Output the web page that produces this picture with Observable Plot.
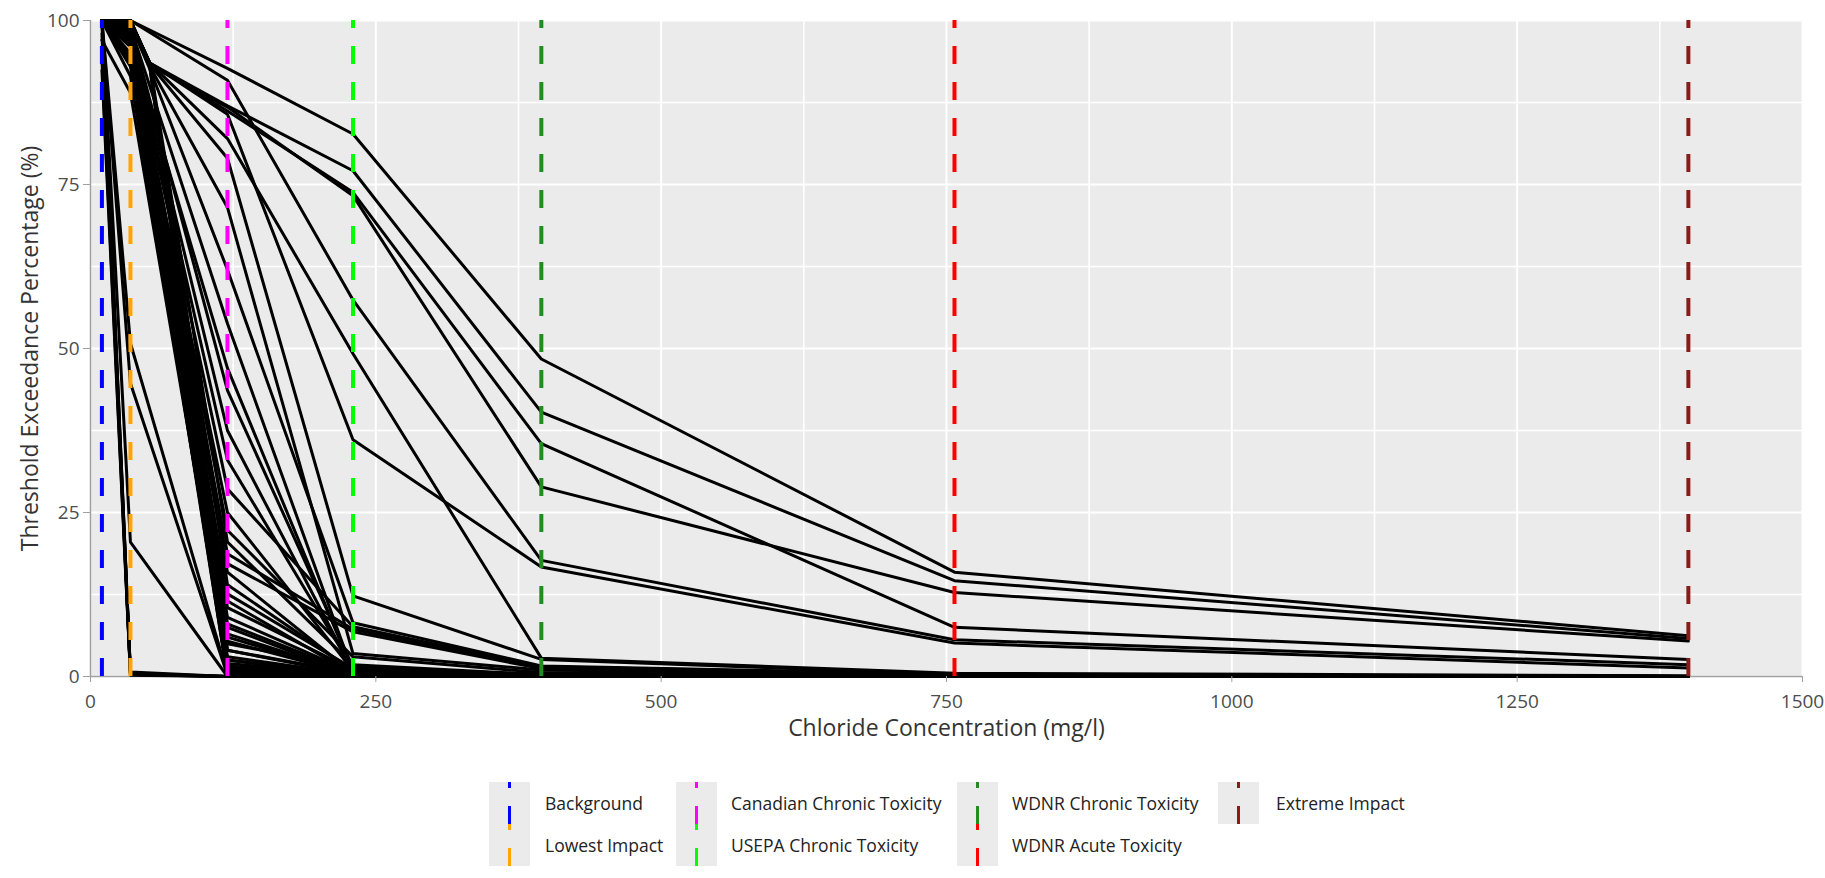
<!DOCTYPE html>
<html>
<head>
<meta charset="utf-8">
<script src="https://cdn.jsdelivr.net/npm/d3@7"></script>
<script src="https://cdn.jsdelivr.net/npm/@observablehq/plot@0.6"></script>
<style>
  html, body { margin: 0; padding: 0; background: #ffffff; }
  #wrap { position: relative; width: 1825px; height: 878px; font-family: "Open Sans", "Noto Sans", sans-serif; }
  #wrap svg { display: block; }
  .key { position: absolute; width: 41px; height: 42px; background: #EBEBEB; }
  .lab { position: absolute; font-size: 17.5px; color: #222; line-height: 20px; white-space: nowrap; }
</style>
</head>
<body>
<div id="wrap"></div>
<script>
// ---- Data ----
const thresholdNames = ["Background", "Lowest Impact", "Canadian Chronic Toxicity", "USEPA Chronic Toxicity", "WDNR Chronic Toxicity", "WDNR Acute Toxicity", "Extreme Impact"];
const thresholdValues = [10, 35, 120, 230, 395, 757, 1400];
const thresholdColors = ["#0000FF", "#FFA500", "#FF00FF", "#00FF00", "#228B22", "#FF0000", "#8B1A1A"];

// concentrations at which each site's exceedance percentage is plotted
const siteX = [10, 35, 52, 120, 230, 395, 757, 1400];
// exceedance percentage per site (null = no point)
const siteY = [
  [100, 100, null, 92.7, 82.7, 48.4, 15.9, 6.2],
  [100, 100, 93.5, 87.0, 77.1, 40.3, 14.6, 5.8],
  [100, 100, 93.5, 86.2, 73.8, 35.5, 7.5, 2.6],
  [100, 100, 93.2, 86.8, 73.3, 28.9, 12.8, 5.4],
  [100, 100, null, 90.9, 57.4, 17.7, 5.6, 1.8],
  [100, 100, 93.5, 85.7, 36.1, 16.7, 5.1, 1.3],
  [100, 100, 93.5, 82.0, 49.2, 2.8, 0.5, 0.1],
  [100, 100, 93.3, 79.0, 12.3, 2.6, 0.3, 0],
  [100, 100, 93.0, 71.5, 3.5, 1.0, 0.2, 0],
  [100, 99.5, 92.6, 62.0, 8.2, 1.6, 0.3, 0],
  [100, 100, 93.4, 20.5, 1.8, 0.3, 0, 0],
  [100, 100, 93.2, 14.0, 0.9, 0.1, 0, 0],
  [100, 100, 93.0, 8.0, 0.5, 0, 0, 0],
  [100, 99.5, 92.8, 4.0, 0.3, 0, 0, 0],
  [100, 100, 93.5, 2.5, 0.2, 0, 0, 0],
  [100, 99, null, 53.8, 0.6, 0.2, 0, 0],
  [100, 99, null, 43.6, 1.4, 0.3, 0, 0],
  [100, 98.5, null, 37.5, 0.8, 0.2, 0, 0],
  [100, 98, null, 28.6, 7.6, 1.5, 0.3, 0],
  [100, 97.5, null, 22.3, 3.0, 0.6, 0, 0],
  [100, 99, null, 18.7, 7.2, 1.4, 0.3, 0],
  [100, 98, null, 17.2, 6.8, 1.2, 0.2, 0],
  [100, 97, null, 15.9, 0.5, 0.1, 0, 0],
  [100, 99, null, 12.6, 1.2, 0.2, 0, 0],
  [100, 98, null, 6.5, 0.4, 0, 0, 0],
  [100, 97, null, 5.4, 0.3, 0, 0, 0],
  [100, 99.5, null, 5.0, 1.3, 0.3, 0, 0],
  [100, 97, null, 47.0, 0.7, 0.1, 0, 0],
  [100, 98, null, 33.0, 1.1, 0.2, 0, 0],
  [100, 96, null, 25.0, 0.9, 0.1, 0, 0],
  [100, 99, null, 10.5, 1.0, 0.2, 0, 0],
  [100, 97.5, null, 9.0, 0.6, 0, 0, 0],
  [100, 100, null, 7.5, 0.2, 0, 0, 0],
  [100, 94.5, null, 6.0, 0.3, 0, 0, 0],
  [100, 93.5, null, 11.5, 0.4, 0, 0, 0],
  [100, 98.5, null, 4.0, 0.5, 0, 0, 0],
  [100, 99, null, 3.0, 0.3, 0, 0, 0],
  [100, 100, null, 2.0, 0.2, 0, 0, 0],
  [100, 99.5, null, 1.5, 0.1, 0, 0, 0],
  [100, 99, null, 1.0, 0, 0, 0, 0],
  [100, 98.5, null, 0.8, 0, 0, 0, 0],
  [100, 98, null, 0.5, 0, 0, 0, 0],
  [100, 97.5, null, 0.3, 0, 0, 0, 0],
  [100, 97, null, 0.2, 0, 0, 0, 0],
  [100, 96.5, null, 1.2, 0.1, 0, 0, 0],
  [100, 96, null, 0.6, 0, 0, 0, 0],
  [100, 95, null, 0.4, 0, 0, 0, 0],
  [100, 94, null, 0.1, 0, 0, 0, 0],
  [100, 93, null, 0, 0, 0, 0, 0],
  [100, 99.5, null, 0.2, 0, 0, 0, 0],
  [100, 99, null, 0.4, 0, 0, 0, 0],
  [100, 91.5, null, 1.6, 0.2, 0, 0, 0],
  [97, 89, null, 2.5, 0.3, 0, 0, 0],
  [100, 50.8, null, 0.3, 0, 0, 0, 0],
  [100, 44.7, null, 0.2, 0, 0, 0, 0],
  [100, 20.5, null, 0, 0, 0, 0, 0],
  [100, 0.7, null, 0, 0, 0, 0, 0],
  [100, 0.3, null, 0, 0, 0, 0, 0],
  [98, 0.4, null, 0, 0, 0, 0, 0],
  [96, 0.5, null, 0, 0, 0, 0, 0],
  [94, 0.3, null, 0, 0, 0, 0, 0],
  [92.4, 0.2, null, 0, 0, 0, 0, 0]
];

const xMajor = [0, 250, 500, 750, 1000, 1250, 1500];
const xMinor = [125, 375, 625, 875, 1125, 1375];
const yMajor = [0, 25, 50, 75, 100];
const yMinor = [12.5, 37.5, 62.5, 87.5];
const xTitle = "Chloride Concentration (mg/l)";
const yTitle = "Threshold Exceedance Percentage (%)";

// ---- Build ----
const lineData = siteY.flatMap((ys, i) => ys.map((y, j) => ({site: i, x: siteX[j], y})).filter(d => d.y !== null));
const thresholds = thresholdValues.map((v, i) => ({name: thresholdNames[i], value: v, color: thresholdColors[i]}));

const chart = Plot.plot({
  width: 1825,
  height: 760,
  marginLeft: 90,
  marginRight: 23,
  marginTop: 20,
  marginBottom: 84,
  style: {fontFamily: "'Open Sans', 'Noto Sans', sans-serif", background: "#ffffff"},
  x: {domain: [0, 1500]},
  y: {domain: [0, 100]},
  color: {type: "identity"},
  marks: [
    Plot.frame({fill: "#EBEBEB"}),
    Plot.gridX(xMinor, {stroke: "#ffffff", strokeOpacity: 1, strokeWidth: 1.6}),
    Plot.gridY(yMinor, {stroke: "#ffffff", strokeOpacity: 1, strokeWidth: 1.6}),
    Plot.gridX(xMajor, {stroke: "#ffffff", strokeOpacity: 1, strokeWidth: 2}),
    Plot.gridY(yMajor, {stroke: "#ffffff", strokeOpacity: 1, strokeWidth: 2}),
    Plot.ruleX([0], {stroke: "#A0A0A0", strokeWidth: 1.5}),
    Plot.ruleY([0], {stroke: "#A0A0A0", strokeWidth: 1.5}),
    Plot.line(lineData, {x: "x", y: "y", z: "site", stroke: "#000000", strokeWidth: 3, strokeLinejoin: "round"}),
    Plot.ruleX(thresholds, {x: "value", y1: 0, y2: 100, stroke: "color", strokeWidth: 4, strokeDasharray: "18,18"}),
    Plot.axisX(xMajor, {tickSize: 6, tickPadding: 12, fontSize: 19, stroke: "#A0A0A0", fill: "#4D4D4D", tickFormat: d => String(d), label: null}),
    Plot.axisY(yMajor, {tickSize: 7, tickPadding: 4, fontSize: 19, stroke: "#A0A0A0", fill: "#4D4D4D", tickFormat: d => String(d), label: null}),
    Plot.text([xTitle], {text: d => d, frameAnchor: "bottom", dy: 59, fontSize: 23, fill: "#333333"}),
    Plot.text([yTitle], {text: d => d, frameAnchor: "left", textAnchor: "middle", dx: -60, rotate: -90, fontSize: 23, fill: "#333333"})
  ]
});

const wrap = document.getElementById("wrap");
wrap.appendChild(chart);

// ---- Legend (below the SVG) ----
const colLeft = [489, 676, 957, 1218];
const textLeft = [545, 731, 1012, 1276];
const rowTop = [782, 824];
thresholds.forEach((t, i) => {
  const col = Math.floor(i / 2), row = i % 2;
  const key = document.createElement("div");
  key.className = "key";
  key.style.left = colLeft[col] + "px";
  key.style.top = rowTop[row] + "px";
  const svg = d3.create("svg").attr("width", 41).attr("height", 42);
  svg.append("line")
    .attr("x1", 20.5).attr("x2", 20.5).attr("y1", 42).attr("y2", 0)
    .attr("stroke", t.color).attr("stroke-width", 3)
    .attr("stroke-dasharray", "18,18");
  key.appendChild(svg.node());
  wrap.appendChild(key);
  const lab = document.createElement("div");
  lab.className = "lab";
  lab.textContent = t.name;
  lab.style.left = textLeft[col] + "px";
  lab.style.top = (rowTop[row] + 11) + "px";
  wrap.appendChild(lab);
});
</script>
</body>
</html>
